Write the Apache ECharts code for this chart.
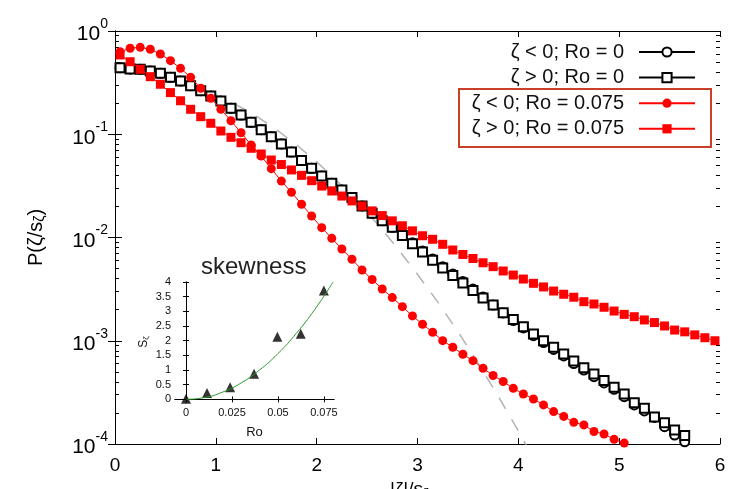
<!DOCTYPE html>
<html><head><meta charset="utf-8">
<script src="https://cdn.jsdelivr.net/npm/echarts@6/dist/echarts.min.js"></script>
<style>html,body{margin:0;padding:0;background:#fff}#c{width:731px;height:489px}</style>
</head><body><div id="c"></div>
<script>
// ---------- data ----------
const xBins = [0.05,0.15,0.25,0.35,0.45,0.55,0.65,0.75,0.85,0.95,
  1.05,1.15,1.25,1.35,1.45,1.55,1.65,1.75,1.85,1.95,
  2.05,2.15,2.25,2.35,2.45,2.55,2.65,2.75,2.85,2.95,
  3.05,3.15,3.25,3.35,3.45,3.55,3.65,3.75,3.85,3.95,
  4.05,4.15,4.25,4.35,4.45,4.55,4.65,4.75,4.85,4.95,
  5.05,5.15,5.25,5.35,5.45,5.55,5.65,5.75,5.85,5.95];

// zeta < 0 ; Ro = 0 (open circles)
const negRo0 = [0.441,0.4285,0.4256,0.410,0.389,0.356,0.328,0.295,0.264,0.2347,
  0.210,0.1784,0.1536,0.1305,0.1107,0.0947,0.0805,0.0673,0.0557,0.0468,
  0.0394,0.0335,0.0288,0.0244,0.0202,0.01715,0.01454,0.01255,0.01046,0.00889,
  0.00740,0.00619,0.00521,0.00443,0.00375,0.00317,0.00265,0.00222,0.00186,0.00157,
  0.00133,0.00112,0.000962,0.000823,0.000712,0.000602,0.000521,0.000449,0.000390,0.000339,
  0.000287,0.000239,0.000209,0.000181,0.000147,0.000122,0.000105];

// zeta > 0 ; Ro = 0 (open squares)
const posRo0 = [0.441,0.4285,0.4256,0.410,0.389,0.356,0.328,0.295,0.264,0.2347,
  0.210,0.1784,0.1536,0.1305,0.1107,0.0947,0.0805,0.0673,0.0557,0.0468,
  0.0394,0.0335,0.0288,0.0244,0.0202,0.01715,0.01454,0.01255,0.01046,0.00869,
  0.00724,0.00602,0.00507,0.00429,0.003625,0.003067,0.002594,0.002219,0.001869,0.001606,
  0.001368,0.001163,0.001001,0.000864,0.000744,0.000637,0.000548,0.000476,0.000412,0.000354,
  0.000305,0.000251,0.000222,0.000183,0.000161,0.000137,0.000121];

// zeta < 0 ; Ro = 0.075 (filled circles)
const negRo075 = [0.630,0.680,0.695,0.665,0.599,0.516,0.435,0.356,0.279,0.223,
  0.1745,0.135,0.1035,0.0787,0.0615,0.0464,0.0352,0.0274,0.0210,0.01615,
  0.01245,0.00982,0.00774,0.00615,0.00484,0.00392,0.00317,0.00262,0.00214,0.00174,
  0.001445,0.00121,0.001002,0.000865,0.00074,0.000641,0.000541,0.000461,0.000403,0.000346,
  0.000305,0.000273,0.000239,0.000206,0.000185,0.000162,0.000153,0.000132,0.000125,0.000111,
  0.000102];

// zeta > 0 ; Ro = 0.075 (filled squares)
const posRo075 = [0.586,0.504,0.426,0.361,0.305,0.253,0.211,0.1744,0.148,0.1277,
  0.1075,0.0934,0.0828,0.0731,0.0644,0.0563,0.0509,0.0451,0.0400,0.0355,
  0.0315,0.0282,0.0252,0.0226,0.0202,0.0181,0.0163,0.0145,0.0130,0.0116,
  0.0104,0.00961,0.00859,0.00757,0.00685,0.00626,0.00569,0.00522,0.00474,0.00433,
  0.00396,0.00360,0.00332,0.00303,0.00282,0.00264,0.00239,0.00227,0.00211,0.00194,
  0.00180,0.00171,0.00159,0.00150,0.00139,0.00127,0.00122,0.00114,0.00107,0.00100];

// grey dashed reference curve
const gaussX = [0,0.2,0.4,0.6,0.8,1.0,1.2,1.4,1.6,1.8,2.0,2.2,2.4,2.6,2.8,3.0,3.2,3.4,3.6,3.8,4.0,4.2];
const gaussY = [0.399,0.391,0.368,0.333,0.290,0.242,0.194,0.150,0.111,0.079,0.054,0.0355,0.0224,0.0136,0.0079,0.0044,0.00238,0.00123,0.00061,0.00029,0.000134,0.0000589];

// inset: skewness vs Ro
const roValues = [0, 0.0114, 0.024, 0.037, 0.0497, 0.0624, 0.075];
const skewValues = [0.02, 0.22, 0.41, 0.87, 2.13, 2.24, 3.71];
const fitRo = [0,0.01,0.02,0.03,0.04,0.05,0.06,0.07,0.08];
const fitS = [0,0.06,0.25,0.56,1.0,1.56,2.25,3.06,4.0];

// tick labels
const insetXTicks = [0,0.025,0.05,0.075];
const insetYTicks = [0,0.5,1,1.5,2,2.5,3,3.5,4];
const mantissas = [2,3,4,5,6,7,8,9];
const decades = [1e-4,1e-3,1e-2,1e-1];

const seriesNames = ['\u03b6 < 0; Ro = 0','\u03b6 > 0; Ro = 0','\u03b6 < 0; Ro = 0.075','\u03b6 > 0; Ro = 0.075'];

// ---------- chart ----------
const FONT = '"Liberation Sans", Arial, Helvetica, sans-serif';
const pairs = (xs, ys) => ys.map((y, i) => [xs[i], y]);
const minorY = [];
decades.forEach(d => mantissas.forEach(m => minorY.push(m * d)));

const chart = echarts.init(document.getElementById('c'), null, {renderer: 'canvas'});

const frameLine = {show: true, lineStyle: {color: '#000', width: 1}};
const noLabel = {show: false};
const noSplit = {show: false};

const option = {
  animation: false,
  backgroundColor: '#fff',
  textStyle: {fontFamily: FONT},
  grid: [
    {left: 115, right: 11, top: 31, bottom: 45, outerBoundsMode: 'none'},
    {left: 175, width: 159, top: 282, height: 120, outerBoundsMode: 'none'}
  ],
  title: {
    text: 'skewness', left: 196, top: 250,
    textStyle: {fontSize: 24, fontWeight: 'normal', color: '#222', fontFamily: FONT}
  },
  legend: {
    data: seriesNames,
    orient: 'vertical', right: 35, top: 41, padding: 0,
    align: 'right', itemWidth: 56, itemHeight: 11.5, itemGap: 3.6,
    formatter: n => n + '\u2002',
    textStyle: {fontSize: 20, color: '#111', fontFamily: FONT, lineHeight: 22},
    selectedMode: false
  },
  xAxis: [
    {gridIndex: 0, type: 'value', min: 0, max: 6, interval: 1, position: 'bottom',
     axisLine: frameLine, axisTick: {inside: true, length: 6, lineStyle: {color: '#000'}},
     axisLabel: {fontSize: 19, color: '#000', margin: 12, fontFamily: FONT},
     splitLine: noSplit},
    {gridIndex: 0, type: 'value', min: 0, max: 6, interval: 1, position: 'top',
     axisLine: frameLine, axisTick: {inside: true, length: 6, lineStyle: {color: '#000'}},
     axisLabel: noLabel, splitLine: noSplit},
    {gridIndex: 1, type: 'value', min: -0.006, max: 0.0805, position: 'bottom',
     axisLine: frameLine,
     axisTick: {inside: true, length: 3, customValues: insetXTicks, lineStyle: {color: '#000'}},
     axisLabel: {customValues: insetXTicks, fontSize: 11, color: '#111', margin: 5, fontFamily: FONT},
     splitLine: noSplit,
     name: 'Ro', nameLocation: 'middle', nameGap: 24,
     nameTextStyle: {fontSize: 13, color: '#111', fontFamily: FONT}},
    {gridIndex: 1, type: 'value', min: -0.006, max: 0.0805, position: 'top',
     axisLine: frameLine,
     axisTick: {inside: true, length: 3, customValues: insetXTicks, lineStyle: {color: '#000'}},
     axisLabel: noLabel, splitLine: noSplit}
  ],
  yAxis: [
    {gridIndex: 0, type: 'log', logBase: 10, min: 1e-4, max: 1, position: 'left',
     axisLine: frameLine, axisTick: {inside: true, length: 7, lineStyle: {color: '#000'}},
     axisLabel: {
       margin: 7,
       formatter: v => '{b|10}{s|' + Math.round(Math.log10(v)) + '}',
       rich: {
         b: {fontSize: 21, color: '#000', fontFamily: FONT, verticalAlign: 'bottom', lineHeight: 28},
         s: {fontSize: 14, color: '#000', fontFamily: FONT, verticalAlign: 'top', lineHeight: 28}
       }
     },
     splitLine: noSplit,
     name: '{a|P(\u03b6/s}{b|\u03b6}{a|)}', nameLocation: 'middle', nameGap: 68, nameRotate: 90,
     nameTextStyle: {rich: {a: {fontSize: 20, color: '#000', fontFamily: FONT}, b: {fontSize: 14, color: '#000', fontFamily: FONT, padding: [8,0,0,0]}}}},
    {gridIndex: 0, type: 'log', logBase: 10, min: 1e-4, max: 1, position: 'right',
     axisLine: frameLine, axisTick: {inside: true, length: 7, lineStyle: {color: '#000'}},
     axisLabel: noLabel, splitLine: noSplit},
    {gridIndex: 0, type: 'log', logBase: 10, min: 1e-4, max: 1, position: 'left',
     axisLine: {show: false}, axisTick: {inside: true, length: 4, customValues: minorY, lineStyle: {color: '#000'}},
     axisLabel: noLabel, splitLine: noSplit},
    {gridIndex: 0, type: 'log', logBase: 10, min: 1e-4, max: 1, position: 'right',
     axisLine: {show: false}, axisTick: {inside: true, length: 4, customValues: minorY, lineStyle: {color: '#000'}},
     axisLabel: noLabel, splitLine: noSplit},
    {gridIndex: 1, type: 'value', min: -0.09, max: 4, position: 'left',
     axisLine: frameLine,
     axisTick: {inside: true, length: 3, customValues: insetYTicks, lineStyle: {color: '#000'}},
     axisLabel: {customValues: insetYTicks, fontSize: 11, color: '#111', margin: 4, fontFamily: FONT},
     splitLine: noSplit,
     name: '{a|S}{b|\u03b6}', nameLocation: 'middle', nameGap: 25, nameRotate: 90,
     nameTextStyle: {rich: {a: {fontSize: 12, color: '#111', fontFamily: FONT}, b: {fontSize: 8, color: '#111', fontFamily: FONT, padding: [5,0,0,0]}}}},
    {gridIndex: 1, type: 'value', min: -0.09, max: 4, position: 'right',
     axisLine: frameLine,
     axisTick: {inside: true, length: 3, customValues: insetYTicks, lineStyle: {color: '#000'}},
     axisLabel: noLabel, splitLine: noSplit}
  ],
  series: [
    {name: 'gauss', type: 'line', xAxisIndex: 0, yAxisIndex: 0, data: pairs(gaussX, gaussY),
     showSymbol: false, symbol: 'none', smooth: false, clip: true, z: 1,
     lineStyle: {color: '#b4b4b4', width: 1.5, type: [13, 12]}},
    {name: seriesNames[0], type: 'line', xAxisIndex: 0, yAxisIndex: 0, data: pairs(xBins, negRo0),
     symbol: 'emptyCircle', symbolSize: 9, z: 2,
     itemStyle: {color: '#000', borderWidth: 1}, lineStyle: {color: '#000', width: 1}},
    {name: seriesNames[1], type: 'line', xAxisIndex: 0, yAxisIndex: 0, data: pairs(xBins, posRo0),
     symbol: 'emptyRect', symbolSize: 9, z: 3,
     itemStyle: {color: '#000', borderWidth: 1}, lineStyle: {color: '#000', width: 1}},
    {name: seriesNames[2], type: 'line', xAxisIndex: 0, yAxisIndex: 0, data: pairs(xBins, negRo075),
     symbol: 'circle', symbolSize: 9, z: 4,
     itemStyle: {color: '#ff0000'}, lineStyle: {color: '#ff0000', width: 1}},
    {name: seriesNames[3], type: 'line', xAxisIndex: 0, yAxisIndex: 0, data: pairs(xBins, posRo075),
     symbol: 'rect', symbolSize: 9, z: 5,
     itemStyle: {color: '#ff0000'}, lineStyle: {color: '#ff0000', width: 1}},
    {name: 'fit', type: 'line', xAxisIndex: 2, yAxisIndex: 4, data: pairs(fitRo, fitS),
     smooth: true, showSymbol: false, symbol: 'none', clip: true,
     lineStyle: {color: '#2e9a2e', width: 1}},
    {name: 'skew', type: 'scatter', xAxisIndex: 2, yAxisIndex: 4, data: pairs(roValues, skewValues),
     symbol: 'triangle', symbolSize: 10, itemStyle: {color: '#000'}}
  ],
  graphic: [
    {type: 'rect', shape: {x: 459, y: 89, width: 252, height: 58},
     style: {fill: 'none', stroke: '#c8402a', lineWidth: 2}, z: 100},
    {type: 'text', left: 390, top: 480, z: 100,
     style: {text: '{a||\u03b6|/s}{b|\u03b6}', fill: '#000',
       rich: {a: {fontSize: 19, fill: '#000', fontFamily: FONT}, b: {fontSize: 13, fill: '#000', fontFamily: FONT, padding: [8,0,0,0]}}}}
  ]
};
chart.setOption(option);
</script></body></html>
